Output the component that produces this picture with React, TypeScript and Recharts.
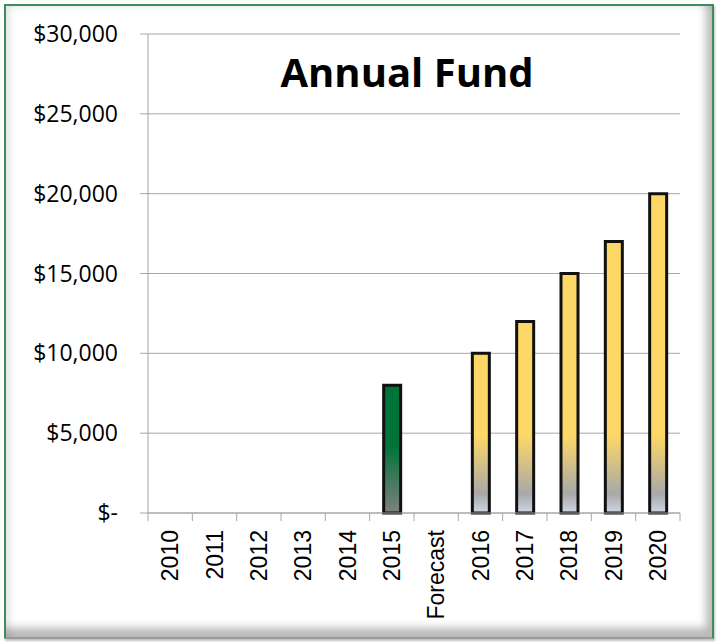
import { BarChart, Bar, XAxis, YAxis, CartesianGrid } from "recharts";

const categories = ["2010", "2011", "2012", "2013", "2014", "2015", "Forecast", "2016", "2017", "2018", "2019", "2020"];
const actualFund = [null, null, null, null, null, 8000, null, null, null, null, null, null];
const forecastFund = [null, null, null, null, null, null, null, 10000, 12000, 15000, 17000, 20000];
const yTicks = [0, 5000, 10000, 15000, 20000, 25000, 30000];

const data = categories.map((year, i) => ({
  year,
  actual: actualFund[i],
  forecast: forecastFund[i],
}));

const W = 719;
const H = 642;
const PLOT_LEFT = 148;
const PLOT_RIGHT = 680;
const PLOT_TOP = 34;
const PLOT_BOTTOM = 513;
const STEP = (PLOT_RIGHT - PLOT_LEFT) / categories.length;
const GRID = "#a6a6a6";

const fmtMoney = (v: number) => (v === 0 ? "$-" : "$" + v.toLocaleString("en-US"));

const YearTick = (props: any) => {
  const { x, payload, index } = props;
  const y = PLOT_BOTTOM;
  return (
    <g>
      <line x1={x - STEP / 2} x2={x - STEP / 2} y1={y} y2={y + 8} stroke={GRID} />
      {index === categories.length - 1 && (
        <line x1={x + STEP / 2} x2={x + STEP / 2} y1={y} y2={y + 8} stroke={GRID} />
      )}
      <text
        transform={`translate(${x}, ${y + 17}) rotate(-90)`}
        textAnchor="end"
        dy="0.36em"
        fontFamily="'Liberation Sans', Arial, sans-serif"
        fontSize={23}
        fill="#000"
      >
        {payload.value}
      </text>
    </g>
  );
};

export default function App() {
  return (
    <div style={{ position: "fixed", left: 0, top: 0, width: W, height: H, background: "#fff" }}>
      <div
        style={{
          position: "absolute",
          left: 4,
          top: 4,
          width: 706,
          height: 631,
          border: "2px solid #3c8c5c",
          borderBottomColor: "#9a9a9a",
          boxShadow:
            "inset 7px 4px 7px -3px rgba(0,0,0,0.10), inset -9px -12px 8px -3px rgba(0,0,0,0.28), 1px 2px 2px rgba(0,0,0,0.25)",
          background: "#fff",
        }}
      />
      <div style={{ position: "absolute", left: 0, top: 0 }}>
        <BarChart
          width={W}
          height={H}
          data={data}
          margin={{ top: PLOT_TOP, right: W - PLOT_RIGHT, bottom: 0, left: 0 }}
          barSize={17}
        >
          <defs>
            <linearGradient id="gradForecast" gradientUnits="userSpaceOnUse" x1="0" y1={PLOT_TOP} x2="0" y2={PLOT_BOTTOM}>
              <stop offset="0" stopColor="#ffd966" />
              <stop offset="0.84" stopColor="#fdd767" />
              <stop offset="0.96" stopColor="#a8a8a8" />
              <stop offset="1" stopColor="#cfd7e6" />
            </linearGradient>
            <linearGradient id="gradActual" gradientUnits="userSpaceOnUse" x1="0" y1={PLOT_TOP} x2="0" y2={PLOT_BOTTOM}>
              <stop offset="0" stopColor="#00733a" />
              <stop offset="0.86" stopColor="#00733a" />
              <stop offset="1" stopColor="#808080" />
            </linearGradient>
          </defs>
          <CartesianGrid horizontal vertical={false} stroke={GRID} />
          <XAxis
            dataKey="year"
            interval={0}
            height={H - PLOT_BOTTOM}
            axisLine={{ stroke: GRID }}
            tickLine={false}
            tick={<YearTick />}
          />
          <YAxis
            width={PLOT_LEFT}
            domain={[0, 30000]}
            ticks={yTicks}
            tickFormatter={fmtMoney}
            axisLine={{ stroke: GRID }}
            tickLine={{ stroke: GRID }}
            tickSize={8}
            tickMargin={22}
            tick={{ fill: "#000", fontSize: 23, fontFamily: "'Open Sans', sans-serif" }}
          />
          <Bar
            dataKey="actual"
            stackId="fund"
            fill="url(#gradActual)"
            stroke="#111"
            strokeWidth={3}
            isAnimationActive={false}
          />
          <Bar
            dataKey="forecast"
            stackId="fund"
            fill="url(#gradForecast)"
            stroke="#111"
            strokeWidth={3}
            isAnimationActive={false}
          />
        </BarChart>
      </div>
      <svg width={W} height={H} style={{ position: "absolute", left: 0, top: 0, pointerEvents: "none" }}>
        <text
          x={407}
          y={87}
          textAnchor="middle"
          fontFamily="'Open Sans', sans-serif"
          fontWeight="bold"
          fontSize={40}
          fill="#000"
        >
          Annual Fund
        </text>
      </svg>
    </div>
  );
}
